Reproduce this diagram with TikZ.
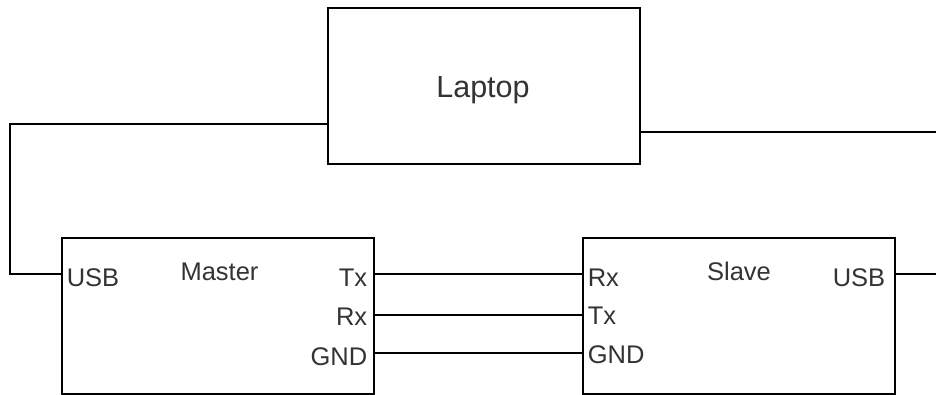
\documentclass[tikz,border=0pt]{standalone}
\usepackage{fontspec}
\setmainfont{Liberation Sans}
\definecolor{txtgray}{HTML}{333333}
\begin{document}
\begin{tikzpicture}[x=1pt,y=-1pt,line width=1.6pt,
  box/.style={draw=black,minimum width=312pt,minimum height=156pt,inner sep=0pt,anchor=north west},
  lbl/.style={inner sep=0pt,text=txtgray,font=\fontsize{25.5}{30}\selectfont},
  wire/.style={draw=black,line width=1.6pt}]
\path[use as bounding box] (0,0) rectangle (936,394);
\node[box] (laptop) at (327,7) {};
\node[box] (master) at (61,237) {};
\node[box] (slave) at (582,237) {};
\node[lbl,anchor=base,font=\fontsize{30.5}{36}\selectfont] (laptoplbl) at (483,97) {Laptop};
\node[lbl,anchor=base] (masterlbl) at (219.5,280) {Master};
\node[lbl,anchor=base] (slavelbl) at (739,280) {Slave};
\node[lbl,anchor=base west] (musb) at (66,286) {USB};
\node[lbl,anchor=base east] (mtx) at (368,286) {Tx};
\node[lbl,anchor=base east] (mrx) at (368,325) {Rx};
\node[lbl,anchor=base east] (mgnd) at (368,365) {GND};
\node[lbl,anchor=base west] (srx) at (587,286) {Rx};
\node[lbl,anchor=base west] (stx) at (587,324) {Tx};
\node[lbl,anchor=base west] (sgnd) at (587,363) {GND};
\node[lbl,anchor=base east] (susb) at (886,286) {USB};
\coordinate (yA) at (0,124);
\coordinate (yB) at (0,132);
\coordinate (y1) at (0,274);
\coordinate (y2) at (0,315);
\coordinate (y3) at (0,353);
\coordinate (leftx) at (10,0);
\coordinate (rightend) at (936,132);
\coordinate (rightend2) at (936,274);
\draw[wire] (laptop.west |- yA) -| (leftx |- y1) -- (master.west |- y1);
\draw[wire] (laptop.east |- yB) -- (rightend);
\draw[wire] (slave.east |- y1) -- (rightend2);
\draw[wire] (master.east |- y1) -- (slave.west |- y1);
\draw[wire] (master.east |- y2) -- (slave.west |- y2);
\draw[wire] (master.east |- y3) -- (slave.west |- y3);
\end{tikzpicture}
\end{document}
